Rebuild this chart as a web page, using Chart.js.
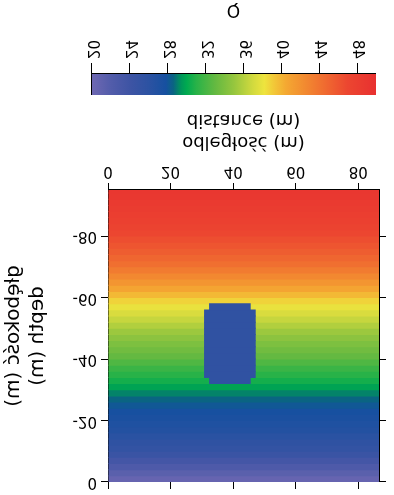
<!DOCTYPE html>
<html><head><meta charset="utf-8">
<script src="https://cdn.jsdelivr.net/npm/chart.js@4.4.0/dist/chart.umd.min.js"></script>
<style>
html,body{margin:0;padding:0;background:#fff;overflow:hidden;width:394px;height:495px;}
#page{position:absolute;left:0;top:0;width:394px;height:495px;transform:scaleY(-1);transform-origin:50% 50%;background:#fff;}
#main{position:absolute;left:0;top:0;}
#cbarBox{position:absolute;left:79px;top:398px;width:310px;height:62px;}
#cbar{position:absolute;left:0;top:0;transform-origin:0 0;transform:translate(310px,0) rotate(90deg);}
#qlabel{position:absolute;left:183px;top:473px;width:101px;height:22px;line-height:22px;text-align:center;font-family:'DejaVu Sans',sans-serif;font-size:17px;color:#000;}
</style>
</head><body>
<div id="page">
  <canvas id="main" width="394" height="400"></canvas>
  <div id="cbarBox"><canvas id="cbar" width="62" height="310"></canvas></div>
  <div id="qlabel">Q</div>
</div>
<script>
// ---- data ----
const depthRows = [-1,-3,-5,-7,-9,-11,-13,-15,-17,-19,-21,-23,-25,-27,-29,-31,-33,-35,-37,-39,-41,-43,-45,-47,-49,-51,-53,-55,-57,-59,-61,-63,-65,-67,-69,-71,-73,-75,-77,-79,-81,-83,-85,-87,-89,-91,-93,-95];
const qProfile = [20.6,21.4,22.4,23.4,24.4,25.2,25.7,26.2,26.7,27.1,27.4,27.7,28.1,28.6,29.1,29.8,30.5,31.0,31.6,32.3,33.0,33.5,34.0,34.6,35.2,35.9,36.6,37.3,38.0,38.8,39.8,40.8,41.8,42.6,43.5,44.3,44.9,45.5,46.0,46.5,47.0,47.4,47.8,48.1,48.4,48.7,48.9,49.1];
const distanceExtent = [0, 86.6];
const depthExtent = [-95, 0];
const anomalyDepths = [-33,-35,-37,-39,-41,-43,-45,-47,-49,-51,-53,-55,-57];
const anomalyLeft  = [32.3,30.7,30.7,30.7,30.7,30.7,30.7,30.7,30.7,30.7,30.7,30.7,32.3];
const anomalyRight = [45.6,47.2,47.2,47.2,47.2,47.2,47.2,47.2,47.2,47.2,47.2,47.2,45.6];
const anomalyQ = 25.6;
const xTickStep = 20;
const yTickStep = 20;
const colorbarRange = [20, 50];
const colorbarTickStep = 4;
const xTitle = ['odległość (m)', 'distance (m)'];
const yTitle = ['głębokość (m)', 'depth (m)'];
// colour scale
const cmapLevels = [20, 22, 24, 26, 27.8, 28.6, 29.4, 30, 31, 33, 35, 37, 38.2, 39.2, 40.5, 42.5, 44.5, 47, 50];
const cmapColors = [[110,104,178],[82,92,170],[62,84,164],[44,82,162],[22,80,160],[10,100,130],[0,150,90],[0,170,80],[40,178,72],[100,185,65],[150,198,62],[210,218,62],[238,228,62],[242,200,56],[244,168,50],[242,138,48],[240,108,48],[236,70,48],[232,48,48]];

function cmap(q){
  if (q <= cmapLevels[0]) return rgb(cmapColors[0]);
  const n = cmapLevels.length;
  if (q >= cmapLevels[n-1]) return rgb(cmapColors[n-1]);
  for (let i=0;i<n-1;i++){
    if (q>=cmapLevels[i] && q<=cmapLevels[i+1]){
      const t=(q-cmapLevels[i])/(cmapLevels[i+1]-cmapLevels[i]);
      const a=cmapColors[i], b=cmapColors[i+1];
      return rgb([a[0]+(b[0]-a[0])*t, a[1]+(b[1]-a[1])*t, a[2]+(b[2]-a[2])*t]);
    }
  }
}
function rgb(c){return 'rgb('+Math.round(c[0])+','+Math.round(c[1])+','+Math.round(c[2])+')';}

Chart.defaults.font.family = "'DejaVu Sans', sans-serif";
Chart.defaults.color = '#000';

const axisBase = (extra) => Object.assign({
  type:'linear',
  offset:false,
  grid:{display:true, drawOnChartArea:false, drawTicks:true, tickLength:7, tickColor:'#000', lineWidth:1, offset:false},
  border:{display:true, color:'#000', width:1},
}, extra);

new Chart(document.getElementById('main'), {
  type:'bar',
  data:{
    datasets:[
      {
        label:'anomaly',
        order:0,
        grouped:false,
        data: anomalyDepths.map((d,i)=>({y:d, x:[anomalyLeft[i], anomalyRight[i]]})),
        backgroundColor: cmap(anomalyQ),
        borderWidth:0,
        barPercentage:1.15,
        categoryPercentage:1
      },
      {
        label:'Q',
        order:1,
        grouped:false,
        data: depthRows.map((d,i)=>({y:d, x:[distanceExtent[0], distanceExtent[1]]})),
        backgroundColor: qProfile.map(q=>cmap(q)),
        borderWidth:0,
        barPercentage:1.15,
        categoryPercentage:1
      }
    ]
  },
  options:{
    indexAxis:'y',
    responsive:false,
    animation:false,
    events:[],
    layout:{padding:0},
    plugins:{legend:{display:false}, tooltip:{enabled:false}},
    scales:{
      x: axisBase({
        position:'bottom', min:distanceExtent[0], max:distanceExtent[1],
        ticks:{stepSize:xTickStep, includeBounds:false, font:{size:15}, padding:3, maxRotation:0},
        title:{display:true, text:xTitle, font:{size:18}, padding:{top:0, bottom:14}},
        afterFit:(s)=>{s.height=95;}
      }),
      x2: axisBase({
        position:'top', min:distanceExtent[0], max:distanceExtent[1],
        ticks:{stepSize:xTickStep, includeBounds:false, display:false},
        afterFit:(s)=>{s.height=10;}
      }),
      y: axisBase({
        position:'left', min:depthExtent[0], max:depthExtent[1],
        ticks:{stepSize:yTickStep, includeBounds:false, font:{size:15}, padding:4},
        title:{display:true, text:yTitle, font:{size:20}, padding:{top:2, bottom:0}},
        afterFit:(s)=>{s.width=108;}
      }),
      y2: axisBase({
        position:'right', min:depthExtent[0], max:depthExtent[1],
        ticks:{stepSize:yTickStep, includeBounds:false, display:false},
        afterFit:(s)=>{s.width=15;}
      })
    }
  }
});

// ---- colour bar ----
new Chart(document.getElementById('cbar'), {
  type:'bar',
  data:{
    labels:['Q'],
    datasets:[{
      label:'Q scale',
      data:[[colorbarRange[0], colorbarRange[1]]],
      borderWidth:0,
      barPercentage:1,
      categoryPercentage:1,
      backgroundColor:(ctx)=>{
        const chart = ctx.chart;
        if (!chart.chartArea) return cmap(35);
        const ys = chart.scales.y;
        const p0 = ys.getPixelForValue(colorbarRange[0]);
        const p1 = ys.getPixelForValue(colorbarRange[1]);
        const g = chart.ctx.createLinearGradient(0, p0, 0, p1);
        cmapLevels.forEach((q,i)=>g.addColorStop((q-colorbarRange[0])/(colorbarRange[1]-colorbarRange[0]), rgb(cmapColors[i])));
        return g;
      }
    }]
  },
  options:{
    responsive:false,
    animation:false,
    events:[],
    layout:{padding:0},
    plugins:{legend:{display:false}, tooltip:{enabled:false}},
    scales:{
      x:{type:'category', position:'bottom', offset:true,
         grid:{display:false}, ticks:{display:false},
         border:{display:true,color:'#000',width:1},
         afterFit:(s)=>{s.height=10;}},
      x2:{type:'linear', position:'top', min:0, max:1,
         grid:{display:false}, ticks:{display:false},
         border:{display:true,color:'#000',width:1},
         afterFit:(s)=>{s.height=11;}},
      y:{type:'linear', position:'right', min:colorbarRange[0], max:colorbarRange[1],
         grid:{display:true, drawOnChartArea:false, drawTicks:true, tickLength:11, tickColor:'#000'},
         border:{display:true,color:'#000',width:1},
         ticks:{stepSize:colorbarTickStep, includeBounds:false, font:{size:15}, padding:4},
         afterFit:(s)=>{s.width=39;}},
      y2:{type:'linear', position:'left', min:colorbarRange[0], max:colorbarRange[1],
         grid:{display:false}, ticks:{display:false},
         border:{display:true,color:'#000',width:1},
         afterFit:(s)=>{s.width=2;}}
    }
  }
});
</script>
</body></html>
